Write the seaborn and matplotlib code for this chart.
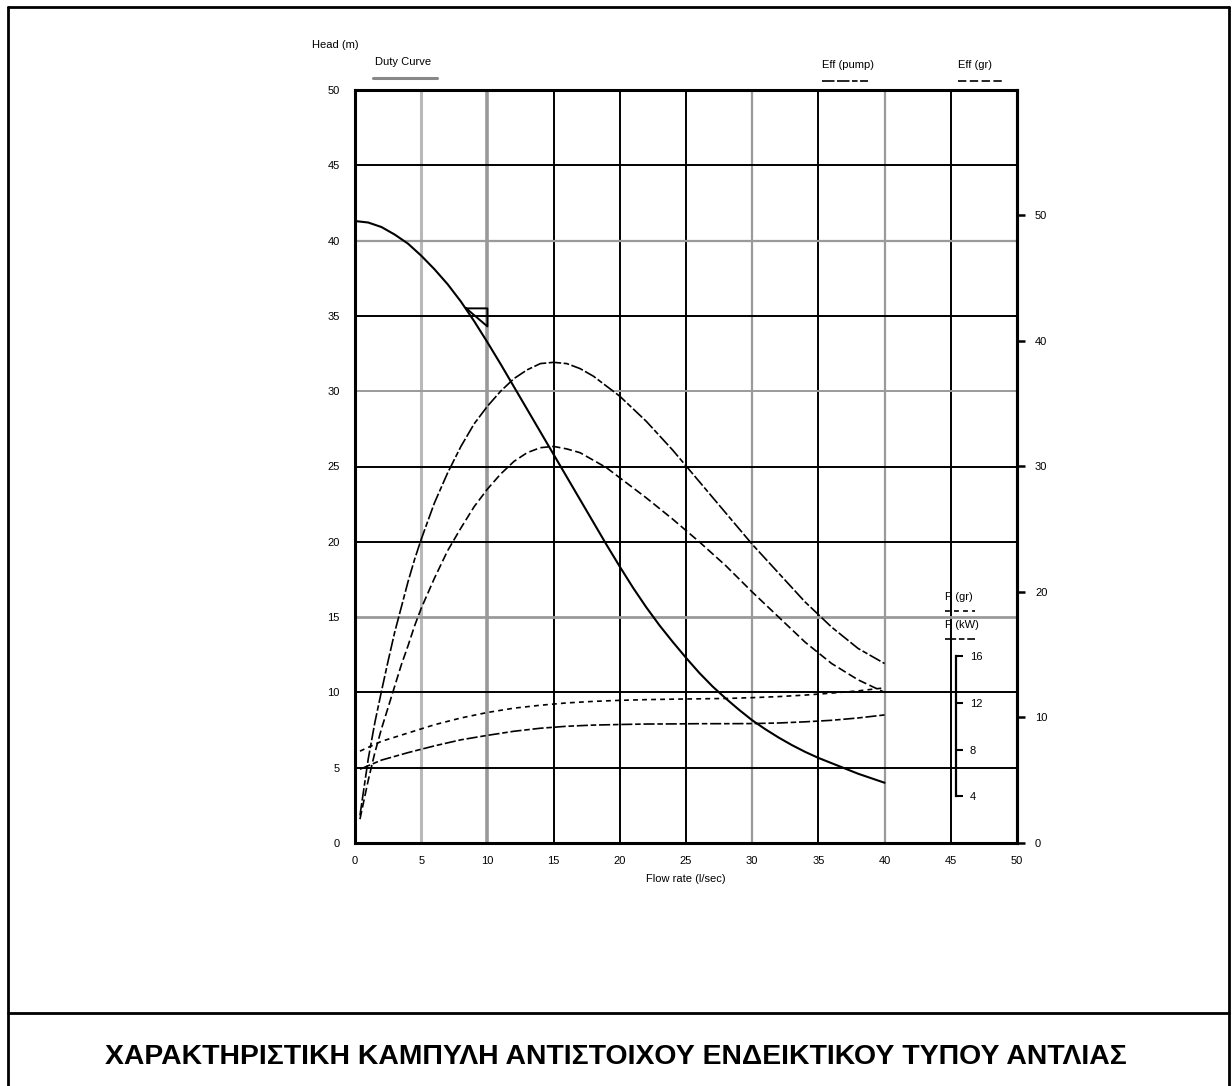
import matplotlib
matplotlib.use("Agg")
import matplotlib.pyplot as plt
from matplotlib.lines import Line2D
import seaborn as sns

# ---------------- data ----------------
flow_head = [0, 1, 2, 3, 4, 5, 6, 7, 8, 9, 10, 11, 12, 13, 14, 15, 16, 17, 18, 19, 20,
             21, 22, 23, 24, 25, 26, 27, 28, 29, 30, 31, 32, 33, 34, 35, 36, 37, 38, 39, 40]
head_m = [41.3, 41.2, 40.9, 40.4, 39.8, 39.0, 38.1, 37.1, 35.95, 34.65, 33.25, 31.8, 30.3, 28.8, 27.3,
          25.8, 24.3, 22.8, 21.3, 19.8, 18.35, 16.95, 15.65, 14.45, 13.35, 12.3, 11.3, 10.4, 9.6,
          8.85, 8.15, 7.55, 7.0, 6.5, 6.05, 5.65, 5.3, 4.95, 4.6, 4.3, 4.0]

flow_eff_pump = [0.375, 1, 1.5, 2, 2.5, 3, 3.5, 4, 4.5, 5, 6, 7, 8, 9, 10, 11, 12, 13, 14, 15, 16, 17,
                 18, 19, 20, 22, 24, 26, 28, 30, 32, 34, 36, 38, 40]
eff_pump = [2.2, 6.7, 9.6, 12.1, 14.5, 16.8, 18.8, 20.8, 22.6, 24.2, 27.1, 29.5, 31.6, 33.4, 34.8, 36.0,
            37.0, 37.7, 38.2, 38.3, 38.2, 37.8, 37.2, 36.4, 35.6, 33.6, 31.3, 28.8, 26.3, 23.8, 21.5,
            19.2, 17.2, 15.5, 14.3]

flow_eff_gr = [0.375, 1, 1.5, 2, 2.5, 3, 3.5, 4, 4.5, 5, 6, 7, 8, 9, 10, 11, 12, 13, 14, 15, 16, 17,
               18, 19, 20, 22, 24, 26, 28, 30, 32, 34, 36, 38, 40]
eff_gr = [1.9, 5.0, 7.2, 9.1, 10.8, 12.5, 14.2, 15.7, 17.3, 18.7, 21.1, 23.3, 25.1, 26.8, 28.2, 29.4,
          30.4, 31.1, 31.5, 31.6, 31.4, 31.1, 30.5, 29.9, 29.1, 27.5, 25.8, 24.0, 22.1, 20.0, 18.0,
          16.0, 14.3, 13.0, 12.0]

flow_power = [0.375, 2, 4, 6, 8, 10, 12, 14, 16, 18, 20, 22, 24, 26, 28, 30, 32, 34, 36, 38, 40]
power_gr = [7.87, 8.71, 9.42, 10.13, 10.71, 11.18, 11.55, 11.8, 12.0, 12.13, 12.22, 12.28, 12.32,
            12.35, 12.38, 12.45, 12.54, 12.67, 12.84, 13.03, 13.29]
power_kw = [6.32, 7.1, 7.74, 8.32, 8.84, 9.22, 9.57, 9.83, 10.0, 10.1, 10.15, 10.19, 10.2, 10.22,
            10.22, 10.23, 10.28, 10.38, 10.51, 10.71, 10.97]

duty_x = [8.4, 10, 10, 8.4]
duty_y = [35.5, 35.5, 34.3, 35.5]

x_ticks = [0, 5, 10, 15, 20, 25, 30, 35, 40, 45, 50]
head_ticks = [0, 5, 10, 15, 20, 25, 30, 35, 40, 45, 50]
eff_ticks = [0, 10, 20, 30, 40, 50]
p_ticks = [4, 8, 12, 16]

title_text = "ΧΑΡΑΚΤΗΡΙΣΤΙΚΗ ΚΑΜΠΥΛΗ ΑΝΤΙΣΤΟΙΧΟΥ ΕΝΔΕΙΚΤΙΚΟΥ ΤΥΠΟΥ ΑΝΤΛΙΑΣ"

# ---------------- style ----------------
sns.set_style("white")
plt.rcParams['font.family'] = ['Liberation Sans', 'DejaVu Sans']
plt.rcParams['lines.scale_dashes'] = False
plt.rcParams['text.color'] = 'black'
plt.rcParams['axes.labelcolor'] = 'black'
plt.rcParams['xtick.color'] = 'black'
plt.rcParams['ytick.color'] = 'black'

LS_EFF_PUMP = (0, (9, 1.8, 9, 1.8, 4, 1.8))
LS_EFF_GR = (0, (6, 2.5))
LS_P_GR = (0, (3.5, 3))
LS_P_KW = (0, (8, 2, 4, 2))

W, H = 1232, 1086
fig = plt.figure(figsize=(W / 100, H / 100), dpi=100)


def fx(x):
    return x / W


def fy(y):
    return 1 - y / H


ax_l, ax_r, ax_t, ax_b = 355, 1017, 90, 843
ax = fig.add_axes([fx(ax_l), fy(ax_b), (ax_r - ax_l) / W, (ax_b - ax_t) / H])
ax.set_xlim(0, 50)
ax.set_ylim(0, 50)
ax.set_xticks(x_ticks)
ax.set_yticks(head_ticks)
ax.tick_params(axis='both', length=0, labelsize=8, colors='black')
ax.tick_params(axis='y', pad=11)
ax.tick_params(axis='x', pad=9)
ax.grid(True)
gray_x = {5: ('#b8b8b8', 2.2), 10: ('#999999', 2.6), 30: ('#9a9a9a', 1.6), 40: ('#9a9a9a', 1.6)}
gray_y = {40: ('#9a9a9a', 1.6), 30: ('#9a9a9a', 1.4), 15: ('#9a9a9a', 2.0)}
for v, gl in zip(x_ticks, ax.get_xgridlines()):
    c, w = gray_x.get(v, ('black', 1.4))
    gl.set_color(c)
    gl.set_linewidth(w)
    gl.set_linestyle('-')
for v, gl in zip(head_ticks, ax.get_ygridlines()):
    c, w = gray_y.get(v, ('black', 1.4))
    gl.set_color(c)
    gl.set_linewidth(w)
    gl.set_linestyle('-')
for s in ['left', 'bottom', 'top', 'right']:
    ax.spines[s].set_color('black')
    ax.spines[s].set_linewidth(2.2)
ax.set_xlabel("Flow rate (l/sec)", fontsize=8, labelpad=6)
ax.set_ylabel("")

# head curve
sns.lineplot(x=flow_head, y=head_m, ax=ax, color='black', linewidth=1.5)
ax.plot(duty_x, duty_y, color='black', linewidth=1.4)

# efficiency axis
ax2 = ax.twinx()
ax2.set_ylim(0, 60)
ax2.set_yticks(eff_ticks)
ax2.tick_params(axis='y', direction='out', length=6, width=1.8, labelsize=8, pad=7, colors='black')
for s in ['left', 'bottom', 'top']:
    ax2.spines[s].set_visible(False)
ax2.spines['right'].set_linewidth(2.2)
ax2.spines['right'].set_color('black')
sns.lineplot(x=flow_eff_pump, y=eff_pump, ax=ax2, color='black', linewidth=1.2, linestyle=LS_EFF_PUMP)
sns.lineplot(x=flow_eff_gr, y=eff_gr, ax=ax2, color='black', linewidth=1.2, linestyle=LS_EFF_GR)
ax2.set_ylabel("")

# power axis
ax3 = ax.twinx()
ax3.set_ylim(0, 64.5)
ax3.set_yticks(p_ticks)
for s in ['left', 'bottom', 'top']:
    ax3.spines[s].set_visible(False)
ax3.spines['right'].set_position(('data', 45.4))
ax3.spines['right'].set_bounds(4, 16)
ax3.spines['right'].set_linewidth(1.6)
ax3.spines['right'].set_color('black')
ax3.tick_params(axis='y', direction='out', length=5, width=1.5, labelsize=8, pad=5, colors='black')
sns.lineplot(x=flow_power, y=power_gr, ax=ax3, color='black', linewidth=1.2, linestyle=LS_P_GR)
sns.lineplot(x=flow_power, y=power_kw, ax=ax3, color='black', linewidth=1.2, linestyle=LS_P_KW)
ax3.set_ylabel("")

# ---------------- annotations ----------------
fs = 8
fig.text(fx(312), fy(45), "Head (m)", fontsize=fs, ha='left', va='center')
fig.text(fx(375), fy(62), "Duty Curve", fontsize=fs, ha='left', va='center')
fig.add_artist(Line2D([fx(373), fx(437)], [fy(78), fy(78)], color='#888888', linewidth=2.2))

fig.text(fx(822), fy(65), "Eff (pump)", fontsize=fs, ha='left', va='center')
fig.add_artist(Line2D([fx(822), fx(868)], [fy(81), fy(81)], color='black', linewidth=1.2,
                      linestyle=LS_EFF_PUMP))
fig.text(fx(958), fy(65), "Eff (gr)", fontsize=fs, ha='left', va='center')
fig.add_artist(Line2D([fx(958), fx(1005)], [fy(81), fy(81)], color='black', linewidth=1.2,
                      linestyle=LS_EFF_GR))

fig.text(fx(945), fy(597), "P (gr)", fontsize=fs, ha='left', va='center')
fig.add_artist(Line2D([fx(945), fx(975)], [fy(611), fy(611)], color='black', linewidth=1.2,
                      linestyle=LS_P_GR))
fig.text(fx(945), fy(625), "P (kW)", fontsize=fs, ha='left', va='center')
fig.add_artist(Line2D([fx(945), fx(975)], [fy(639), fy(639)], color='black', linewidth=1.2,
                      linestyle=LS_P_KW))

# frame
fw = 2.0
fig.add_artist(Line2D([fx(8), fx(1229)], [fy(7), fy(7)], color='black', linewidth=fw))
fig.add_artist(Line2D([fx(8), fx(8)], [fy(7), 0], color='black', linewidth=fw))
fig.add_artist(Line2D([fx(1229), fx(1229)], [fy(7), 0], color='black', linewidth=fw))
fig.add_artist(Line2D([fx(8), fx(1229)], [fy(1013), fy(1013)], color='black', linewidth=fw))

fig.text(0.4996, fy(1057), title_text, fontsize=20.4, fontweight='bold', ha='center', va='center',
         color='black')

fig.savefig("out.png", dpi=100, facecolor='white')
